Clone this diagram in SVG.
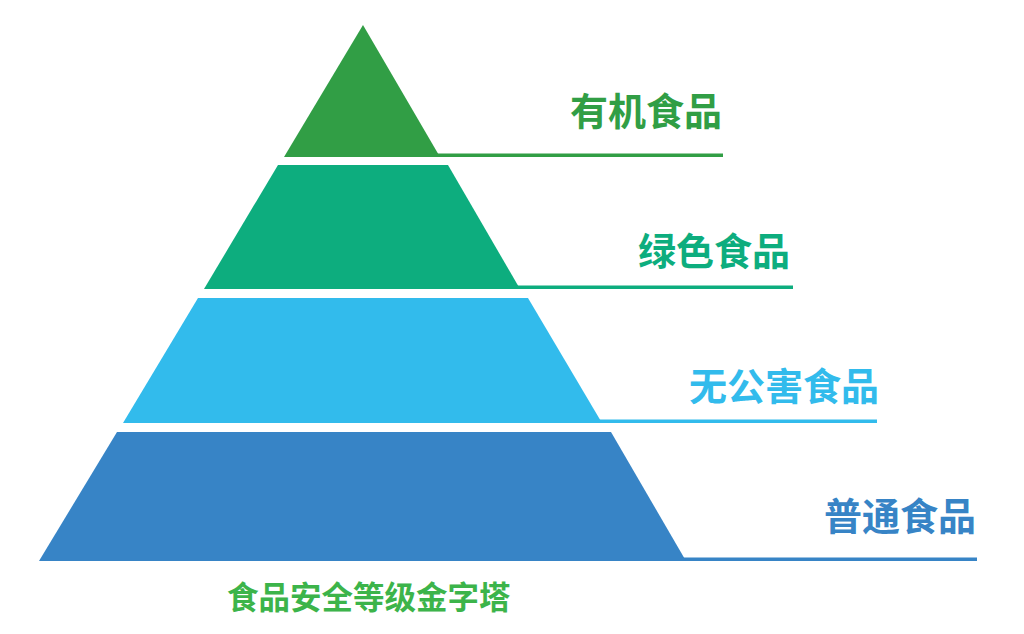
<svg xmlns="http://www.w3.org/2000/svg" width="1024" height="634" viewBox="0 0 1024 634">
  <style>
    .lbl { font-family: "Noto Sans CJK SC", "Noto Sans", sans-serif; font-weight: 700; font-size: 38px; text-anchor: end; }
    .cap { font-family: "Noto Sans CJK SC", "Noto Sans", sans-serif; font-weight: 700; font-size: 31.5px; fill: #3cb44a; }
    .t1 { fill: #319e45; }
    .t2 { fill: #0dad7e; }
    .t3 { fill: #32bbec; }
    .t4 { fill: #3784c6; }
  </style>
  <rect width="1024" height="634" fill="#ffffff"/>
  <g id="connectors">
    <rect class="t1" x="430" y="153.5" width="293" height="3.5"/>
    <rect class="t2" x="510" y="285.5" width="283" height="3.5"/>
    <rect class="t3" x="590" y="419.5" width="287" height="3.5"/>
    <rect class="t4" x="675" y="557.5" width="302" height="3.5"/>
  </g>
  <g id="tier-organic">
    <polygon class="t1" points="363,25 440,157 284,157"/>
    <text class="lbl t1" x="722" y="125">有机食品</text>
  </g>
  <g id="tier-green">
    <polygon class="t2" points="278,165 448,165 520,289 204,289"/>
    <text class="lbl t2" x="790" y="265">绿色食品</text>
  </g>
  <g id="tier-pollution-free">
    <polygon class="t3" points="198,298 528,298 602,423 123,423"/>
    <text class="lbl t3" x="879" y="400">无公害食品</text>
  </g>
  <g id="tier-common">
    <polygon class="t4" points="117,432 611,432 686,561 39,561"/>
    <text class="lbl t4" x="976" y="530">普通食品</text>
  </g>
  <g id="caption">
    <text class="cap" x="227" y="609">食品安全等级金字塔</text>
  </g>
</svg>
